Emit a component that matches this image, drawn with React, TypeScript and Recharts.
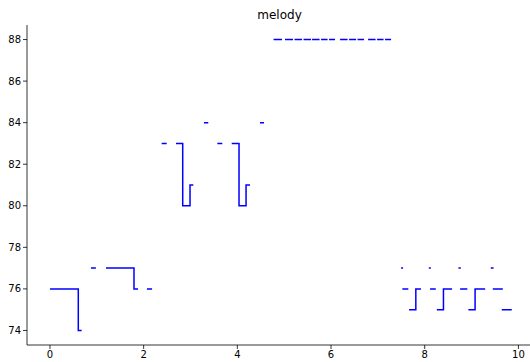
import React from 'react';
import { LineChart, Line, XAxis, YAxis } from 'recharts';

// each run is a list of [time, pitch]; runs are separated by gaps
const openingRuns: [number, number][][] = [
  [[0, 76], [0.605, 74], [0.677, 74]],
  [[0.875, 77], [0.98, 77]],
  [[1.196, 77], [1.794, 76], [1.88, 76]],
  [[2.07, 76], [2.18, 76]],
];

const middleRuns: [number, number][][] = [
  [[2.385, 83], [2.492, 83]],
  [[2.691, 83], [2.834, 80], [2.99, 81], [3.06, 81]],
  [[3.288, 84], [3.38, 84]],
  [[3.573, 83], [3.679, 83]],
  [[3.88, 83], [4.036, 80], [4.186, 81], [4.271, 81]],
  [[4.484, 84], [4.57, 84]],
];

const highRuns: [number, number][][] = [
  [[4.773, 88], [4.954, 88]],
  [[5.018, 88], [5.189, 88]],
  [[5.221, 88], [5.381, 88]],
  [[5.413, 88], [5.573, 88]],
  [[5.595, 88], [5.755, 88]],
  [[5.787, 88], [5.926, 88]],
  [[5.958, 88], [6.086, 88]],
  [[6.193, 88], [6.353, 88]],
  [[6.385, 88], [6.535, 88]],
  [[6.566, 88], [6.705, 88]],
  [[6.791, 88], [6.951, 88]],
  [[6.983, 88], [7.121, 88]],
  [[7.153, 88], [7.282, 88]],
];

const closingRuns: [number, number][][] = [
  [[7.495, 77], [7.538, 77]],
  [[7.523, 76], [7.65, 76]],
  [[7.666, 75], [7.81, 76], [7.92, 76]],
  [[8.087, 77], [8.13, 77]],
  [[8.114, 76], [8.236, 76]],
  [[8.258, 75], [8.4, 76], [8.584, 76]],
  [[8.72, 77], [8.77, 77]],
  [[8.755, 76], [8.91, 76]],
  [[8.932, 75], [9.075, 76], [9.29, 76]],
  [[9.41, 77], [9.47, 77]],
  [[9.453, 76], [9.667, 76]],
  [[9.645, 75], [9.858, 75]],
];

const xTicks = [0, 2, 4, 6, 8, 10];
const yTicks = [74, 76, 78, 80, 82, 84, 86, 88];

const data: { t: number; pitch: number | null }[] = [];
[...openingRuns, ...middleRuns, ...highRuns, ...closingRuns].forEach((run) => {
  run.forEach(([t, p]) => data.push({ t, pitch: p }));
  data.push({ t: run[run.length - 1][0], pitch: null });
});

const font = 'DejaVu Sans, sans-serif';
const tickStyle = { fill: '#000', fontSize: 10, fontFamily: font };

export default function App() {
  return (
    <div style={{ position: 'absolute', left: 0, top: 0, width: 530, height: 362, overflow: 'hidden', background: '#fff' }}>
      <div
        style={{
          position: 'absolute',
          left: 27,
          top: 8,
          width: 505,
          textAlign: 'center',
          fontFamily: font,
          fontSize: 12,
          lineHeight: '14px',
          color: '#000',
        }}
      >
        melody
      </div>
      <LineChart width={560} height={362} data={data} margin={{ top: 25, right: 28, bottom: 0, left: 0 }}>
        <XAxis
          dataKey="t"
          type="number"
          domain={[-0.49, 10.29]}
          ticks={xTicks}
          allowDataOverflow
          height={17}
          tickSize={4}
          tickMargin={2}
          tick={tickStyle}
          stroke="#000"
          axisLine={{ stroke: '#000', strokeWidth: 0.8 }}
          tickLine={{ stroke: '#000', strokeWidth: 0.8 }}
        />
        <XAxis
          xAxisId="top"
          orientation="top"
          dataKey="t"
          type="number"
          domain={[-0.49, 10.29]}
          height={0}
          tick={false}
          tickLine={false}
          axisLine={{ stroke: '#000', strokeWidth: 0.8 }}
        />
        <YAxis
          type="number"
          domain={[73.3, 88.7]}
          ticks={yTicks}
          allowDataOverflow
          width={27}
          tickSize={4}
          tickMargin={2}
          tick={tickStyle}
          axisLine={{ stroke: '#000', strokeWidth: 0.8 }}
          tickLine={{ stroke: '#000', strokeWidth: 0.8 }}
        />
        <YAxis
          yAxisId="right"
          orientation="right"
          type="number"
          domain={[73.3, 88.7]}
          width={0}
          tick={false}
          tickLine={false}
          axisLine={{ stroke: '#000', strokeWidth: 0.8 }}
        />
        <Line
          dataKey="pitch"
          type="stepAfter"
          stroke="#0000ff"
          strokeWidth={1.5}
          dot={false}
          activeDot={false}
          connectNulls={false}
          isAnimationActive={false}
        />
      </LineChart>
    </div>
  );
}
